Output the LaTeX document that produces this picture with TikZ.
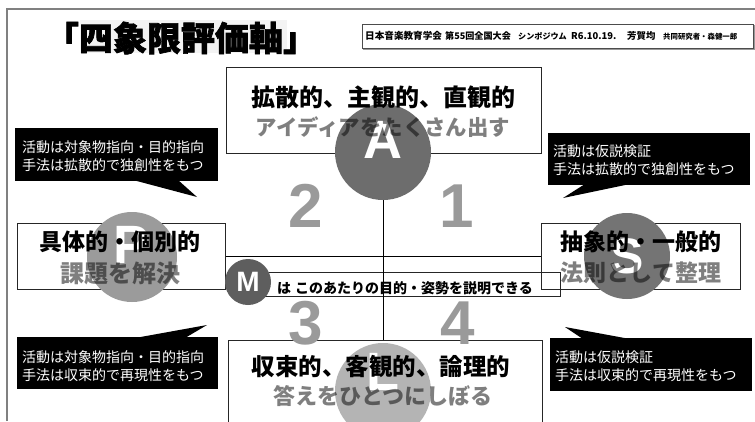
\documentclass[tikz,border=0pt]{standalone}
\usepackage{fontspec}
\setmainfont{Liberation Sans}
\newfontfamily\jp{Noto Sans CJK JP}
\newfontfamily\jph{Noto Sans CJK JP}[BoldFeatures={FakeBold=2}]
\definecolor{colA}{HTML}{6D6D6D}
\definecolor{colP}{HTML}{9B9B9B}
\definecolor{colS}{HTML}{747474}
\definecolor{colL}{HTML}{B4B4B4}
\definecolor{colM}{HTML}{5E5E5E}
\definecolor{numgray}{HTML}{9A9A9A}
\definecolor{titlebg}{HTML}{F3F3F3}
\tikzset{
  frameline/.style={draw=black!50, line width=1.5pt},
  qbox/.style={draw=black!85, line width=0.9pt, inner sep=0pt},
  hdrbox/.style={draw=black!70, line width=0.8pt, inner sep=0pt},
  shadowline/.style={draw=black!40, line width=1.2pt},
  axisline/.style={draw=black, line width=0.9pt},
  headtext/.style={font=\jp\bfseries\fontsize{#1}{#1}\selectfont, inner sep=0pt},
  subtext/.style={font=\jp\bfseries\fontsize{#1}{#1}\selectfont, inner sep=0pt, text=black, text opacity=0.5},
  ball/.style={circle, inner sep=0pt, minimum size=#1},
  balltext/.style={font=\bfseries\fontsize{#1}{#1}\selectfont, text=white, inner sep=0pt},
  numtext/.style={font=\bfseries\fontsize{62}{62}\selectfont, text=numgray, inner sep=0pt},
  callout/.style={fill=black, inner sep=0pt, anchor=north west},
  callouttext/.style={font=\jp\fontsize{14}{18.5}\selectfont, text=white, align=left, inner sep=0pt, anchor=west},
  hdrtext/.style={font=\jp\bfseries\fontsize{#1}{#1}\selectfont, inner sep=0pt, anchor=west},
}
\begin{document}
\begin{tikzpicture}[x=1pt,y=-1pt]
\clip (0,0) rectangle (755,421);
\fill[white] (0,0) rectangle (755,421);

% outer frame
\draw[frameline] (7,421) -- (7,9) -- (755,9);

% title
\fill[titlebg] (80,20) rectangle (287,53);
\node[font=\jph\bfseries\fontsize{34}{34}\selectfont, inner sep=0pt] (title) at (181,38) {「四象限評価軸」};

% header
\node[hdrbox, minimum width=391pt, minimum height=24pt, anchor=north west] (hdr) at (362,24) {};
\draw[shadowline] ([xshift=1pt,yshift=-1pt]hdr.north east) |- ([xshift=1pt,yshift=-1pt]hdr.south west);
\node[hdrtext=9.6] (h1) at (365,36) {日本音楽教育学会};
\node[hdrtext=9.1] (h2) at (445,36) {第55回全国大会};
\node[hdrtext=8.1] (h3) at (518,36) {シンポジウム};
\node[hdrtext=9.4] (h4) at (571,36) {R6.10.19.};
\node[hdrtext=9.4] (h5) at (627,36) {芳賀均};
\node[hdrtext=7.4] (h6) at (663,36.5) {共同研究者・森健一郎};

% quadrant boxes
\node[qbox, minimum width=315pt, minimum height=86pt, anchor=north west] (bA) at (226,67) {};
\node[qbox, minimum width=208pt, minimum height=66pt, anchor=north west] (bB) at (17,223) {};
\node[qbox, minimum width=199pt, minimum height=66pt, anchor=north west] (bS) at (541,223) {};
\node[qbox, minimum width=314pt, minimum height=100pt, anchor=north west] (bC) at (228,340) {};
\node[qbox, minimum width=313pt, minimum height=24pt, anchor=north west] (bM) at (247,272) {};

% circles
\node[ball=96pt, fill=colA] (cA) at (383,152) {};
\node[ball=90pt, fill=colP] (cP) at (132,257) {};
\node[ball=86pt, fill=colS] (cS) at (627,256) {};
\node[ball=96pt, fill=colL] (cL) at (383,391) {};

% axes
\draw[axisline] (cA.south) -- (cA.south |- bC.north);
\draw[axisline] (bB.east) -- (bS.west);

% letters
\node[balltext=54] (lA) at ([yshift=12pt]cA.center) {A};
\node[balltext=54] (lP) at ([yshift=12pt]cP.center) {P};
\node[balltext=50] (lS) at (cS.center) {S};
\node[balltext=54] (lL) at ([yshift=19pt]cL.center) {L};

% quadrant numbers
\node[numtext] (n2) at (306,206) {2};
\node[numtext] (n1) at (457,206) {1};
\node[numtext] (n3) at (306,323) {3};
\node[numtext] (n4) at (458,323) {4};

% box texts
\node[headtext=24] (tA1) at (383,97) {拡散的、主観的、直観的};
\node[subtext=21.4] (tA2) at (383,127) {アイディアをたくさん出す};
\node[headtext=23] (tB1) at (120,242) {具体的・個別的};
\node[subtext=24] (tB2) at (120,273) {課題を解決};
\node[headtext=23] (tS1) at (641,242) {抽象的・一般的};
\node[subtext=23] (tS2) at (641,273) {法則として整理};
\node[headtext=23.5] (tC1) at (381,367) {収束的、客観的、論理的};
\node[subtext=22] (tC2) at (383,396) {答えをひとつにしぼる};

% M
\node[ball=46pt, fill=colM] (cM) at (248,282) {};
\node[balltext=28] (lM) at (cM.center) {M};
\node[headtext=14, anchor=west] (mt) at (277,288) {は\hspace{4pt}このあたりの目的・姿勢を説明できる};

% callouts
\node[callout, minimum width=203pt, minimum height=53pt] (k1) at (15,128) {};
\coordinate (k1tip) at (197,197);
\fill (133,180) -- (k1tip) -- (178,180) -- cycle;
\node[callouttext] (k1x) at (22,156) {活動は対象物指向・目的指向\\手法は拡散的で独創性をもつ};

\node[callout, minimum width=202pt, minimum height=52pt] (k2) at (548,133) {};
\coordinate (k2tip) at (563,198);
\fill (585,184) -- (k2tip) -- (630,184) -- cycle;
\node[callouttext] (k2x) at (553,160) {活動は仮説検証\\手法は拡散的で独創性をもつ};

\node[callout, minimum width=201pt, minimum height=52pt] (k3) at (17,337) {};
\coordinate (k3tip) at (207,325);
\fill (135,338) -- (k3tip) -- (185,338) -- cycle;
\node[callouttext] (k3x) at (22,366) {活動は対象物指向・目的指向\\手法は収束的で再現性をもつ};

\node[callout, minimum width=202pt, minimum height=53pt] (k4) at (550,338) {};
\coordinate (k4tip) at (565,327);
\fill (583,339) -- (k4tip) -- (630,339) -- cycle;
\node[callouttext] (k4x) at (555,366) {活動は仮説検証\\手法は収束的で再現性をもつ};
\end{tikzpicture}
\end{document}
